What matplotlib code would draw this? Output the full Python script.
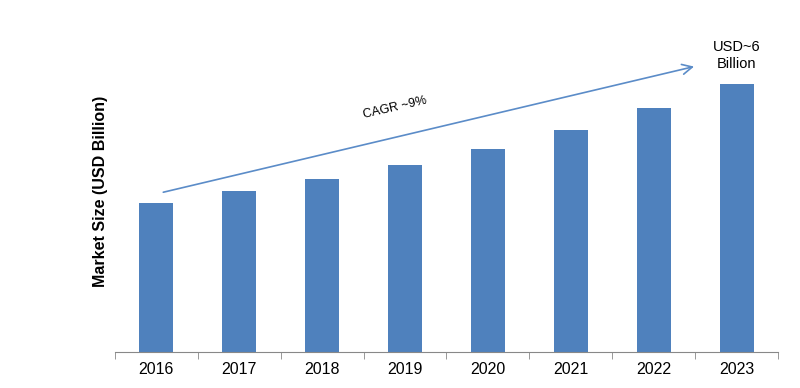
import matplotlib.pyplot as plt
import numpy as np

years = ['2016', '2017', '2018', '2019', '2020', '2021', '2022', '2023']
market_size = [3.34, 3.60, 3.87, 4.19, 4.54, 4.97, 5.46, 6.00]

bar_color = '#4F81BD'
arrow_color = '#5B8CC8'

fig = plt.figure(figsize=(8, 3.88), dpi=100)
ax = fig.add_axes([115 / 800, 36 / 388, (778 - 115) / 800, (352 - 40) / 388])

x = np.arange(len(years))
ax.bar(x, market_size, width=0.41, color=bar_color)

ax.set_xlim(-0.5, len(years) - 0.5)
ax.set_ylim(0, 6.98)

for s in ['top', 'right', 'left']:
    ax.spines[s].set_visible(False)
ax.spines['bottom'].set_color('#888888')
ax.set_yticks([])
ax.set_xticks(x)
ax.set_xticklabels(years, fontsize=11.5, family='Liberation Sans')
ax.tick_params(axis='x', which='major', length=0, pad=7)
ax.set_xticks(np.arange(-0.5, len(years)), minor=True)
ax.tick_params(axis='x', which='minor', length=5, color='#888888', direction='out')

fig.text(101 / 800, 1 - 191 / 388, 'Market Size (USD Billion)', rotation=90,
         ha='center', va='center', fontsize=11.5, fontweight='bold', family='Liberation Sans')

# CAGR arrow
ax.annotate('', xy=(6.52, 6.40), xytext=(0.05, 3.56),
            arrowprops=dict(arrowstyle='->', color=arrow_color, lw=1.2, mutation_scale=18))
ax.text(2.88, 5.46, 'CAGR ~9%', rotation=13, ha='center', va='center',
        fontsize=9, family='Liberation Sans')
ax.text(7, 6.64, 'USD~6\nBillion', ha='center', va='center', fontsize=10.5,
        linespacing=1.3, family='Liberation Sans')

fig.savefig('out.png', dpi=100)
